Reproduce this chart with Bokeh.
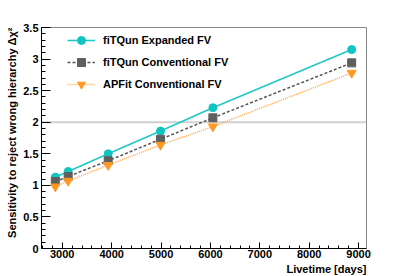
import numpy as np
from bokeh.plotting import figure
from bokeh.models import (FixedTicker, CustomJSTickFormatter, Span, Legend,
                          LegendItem, Range1d, Title)
from bokeh.embed import file_html
from bokeh.resources import INLINE

# ---- data ----
livetime = [2860, 3120, 3930, 4990, 6050, 8860]
fitqun_expanded = [1.13, 1.22, 1.50, 1.86, 2.23, 3.15]
fitqun_conventional = [1.06, 1.14, 1.39, 1.73, 2.07, 2.94]
apfit_conventional = [0.98, 1.07, 1.32, 1.64, 1.93, 2.78]
labels = ["fiTQun Expanded FV", "fiTQun Conventional FV", "APFit Conventional FV"]
x_ticks = [3000, 4000, 5000, 6000, 7000, 8000, 9000]
y_ticks = [0, 0.5, 1, 1.5, 2, 2.5, 3, 3.5]
threshold = 2.0
x_title = "Livetime [days]"
y_title = "Sensitivity to reject wrong hierarchy \u0394\u03c7\u00b2"

FONT = "Liberation Sans"

p = figure(width=407, height=276, output_backend="svg", toolbar_location=None,
           x_range=Range1d(2580, 9160), y_range=Range1d(0, 3.5),
           min_border_left=41, min_border_right=41, min_border_top=27,
           min_border_bottom=28)
p.grid.visible = False
p.outline_line_color = "#888888"
p.outline_line_width = 1
p.background_fill_color = "white"
p.border_fill_color = "white"

for ax in (p.xaxis[0], p.yaxis[0]):
    ax.major_tick_out = 0
    ax.minor_tick_out = 0
    ax.axis_line_color = "black"
    ax.major_tick_line_color = "black"
    ax.minor_tick_line_color = "black"
    ax.major_label_text_font = FONT
    ax.major_label_text_font_style = "bold"
    ax.major_label_text_font_size = "11px"
    ax.major_label_text_color = "black"

p.xaxis.ticker = FixedTicker(ticks=x_ticks,
                             minor_ticks=list(np.arange(2600, 9200, 200)))
p.xaxis.major_tick_in = 6
p.xaxis.minor_tick_in = 3
p.xaxis.major_label_standoff = 1

p.yaxis.ticker = FixedTicker(ticks=y_ticks,
                             minor_ticks=list(np.round(np.arange(0, 3.51, 0.1), 2)))
p.yaxis.major_tick_in = 9
p.yaxis.minor_tick_in = 4
p.yaxis.major_label_standoff = 3
p.yaxis.formatter = CustomJSTickFormatter(code="return String(Math.round(tick*10)/10);")

p.add_layout(Title(text=x_title, align="right", text_font=FONT,
                   text_font_style="bold", text_font_size="11px",
                   text_color="black", standoff=0, offset=0), "below")
p.add_layout(Title(text=y_title, align="right", text_font=FONT,
                   text_font_style="bold", text_font_size="11px",
                   text_color="black", standoff=6, offset=0), "left")

p.add_layout(Span(location=threshold, dimension="width", line_color="#d0d0d0",
                  line_width=2, level="underlay"))

l1 = p.line(livetime, fitqun_expanded, line_color="#22c8c8", line_width=1.6)
s1 = p.scatter(livetime, fitqun_expanded, marker="circle", size=8,
               fill_color="#11c4c4", line_color="#11c4c4")
l2 = p.line(livetime, fitqun_conventional, line_color="#555555", line_width=1.5,
            line_dash="3 2")
s2 = p.scatter(livetime, fitqun_conventional, marker="square", size=8,
               fill_color="#5f5f5f", line_color="#5f5f5f")
l3 = p.line(livetime, apfit_conventional, line_color="#ffaa55", line_width=1.5,
            line_dash="1 1")
s3 = p.scatter(livetime, apfit_conventional, marker="inverted_triangle", size=9,
               fill_color="#ff9922", line_color="#ff9922")

legend = Legend(items=[LegendItem(label=labels[0], renderers=[l1, s1]),
                       LegendItem(label=labels[1], renderers=[l2, s2]),
                       LegendItem(label=labels[2], renderers=[l3, s3])],
                location=(22, 150), margin=0, padding=4, spacing=2,
                glyph_width=28, glyph_height=20, label_height=20,
                label_standoff=8, border_line_alpha=0,
                background_fill_alpha=0,
                label_text_font=FONT, label_text_font_style="bold",
                label_text_font_size="11px", label_text_color="black")
p.add_layout(legend, "center")

open("out.html", "w").write(file_html(p, INLINE))
